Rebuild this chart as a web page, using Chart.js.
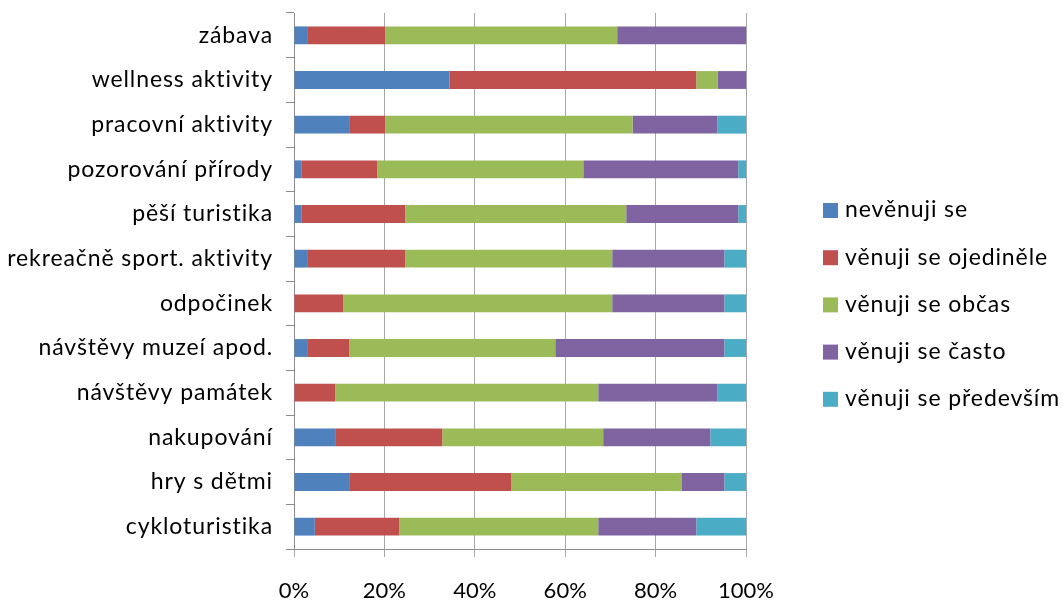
<!DOCTYPE html>
<html>
<head>
<meta charset="utf-8">
<script src="https://cdn.jsdelivr.net/npm/chart.js@4/dist/chart.umd.min.js"></script>
<style>
    html, body { margin: 0; padding: 0; background: #fff; }
    #wrap { width: 1063px; height: 601px; }
</style>
</head>
<body>
<div id="wrap"><canvas id="barChart" width="1063" height="601"></canvas></div>
<script>
// activities, top to bottom
const activities = [
    'zábava', 'wellness aktivity', 'pracovní aktivity', 'pozorování přírody',
    'pěší turistika', 'rekreačně sport. aktivity', 'odpočinek', 'návštěvy muzeí apod.',
    'návštěvy památek', 'nakupování', 'hry s dětmi', 'cykloturistika'
];

const seriesNames = ['nevěnuji se', 'věnuji se ojediněle', 'věnuji se občas', 'věnuji se často', 'věnuji se především'];

// shares in %
const nevenuji   = [2.9, 34.4, 12.2, 1.6, 1.6, 2.9, 0, 2.9, 0, 9.1, 12.2, 4.6];
const ojedinele  = [17.3, 54.6, 8.0, 16.8, 23.0, 21.7, 10.9, 9.3, 9.1, 23.7, 35.9, 18.7];
const obcas      = [51.3, 4.7, 54.7, 45.6, 48.9, 45.8, 59.5, 45.6, 58.2, 35.6, 37.6, 44.0];
const casto      = [28.5, 6.3, 18.8, 34.3, 24.8, 24.8, 24.8, 37.4, 26.4, 23.7, 9.5, 21.7];
const predevsim  = [0, 0, 6.3, 1.7, 1.7, 4.8, 4.8, 4.8, 6.3, 7.9, 4.8, 11.0];

const percentTicks = [0, 20, 40, 60, 80, 100];

const colors = ['#4F81BD', '#C0504D', '#9BBB59', '#8064A2', '#4BACC6'];
const FONT = 'Lato, "Open Sans", sans-serif';
const SPACING = '0.9px';

// slightly loose letter spacing for category labels + legend, normal for the % ticks
// (x tick labels have z:1 so they are drawn after the datasets)
const textSpacing = {
    id: 'textSpacing',
    beforeDraw(chart) { chart.ctx.letterSpacing = SPACING; },
    afterDatasetsDraw(chart) { chart.ctx.letterSpacing = '0px'; }
};

// legend drawn by hand so it can sit in its own column
const sideLegend = {
    id: 'sideLegend',
    afterDraw(chart) {
        const ctx = chart.ctx;
        ctx.save();
        ctx.letterSpacing = SPACING;
        ctx.font = '23px ' + FONT;
        ctx.textBaseline = 'middle';
        chart.data.datasets.forEach((ds, i) => {
            const y = 210 + i * 47.2;
            ctx.fillStyle = ds.backgroundColor;
            ctx.fillRect(823, y - 7, 15, 15);
            ctx.fillStyle = '#000';
            ctx.fillText(ds.label, 845, y);
        });
        ctx.restore();
    }
};

const seriesData = [nevenuji, ojedinele, obcas, casto, predevsim];

const ctx = document.getElementById('barChart').getContext('2d');
const barChart = new Chart(ctx, {
    type: 'bar',
    data: {
        labels: activities,
        datasets: seriesNames.map((name, i) => ({
            label: name,
            data: seriesData[i],
            backgroundColor: colors[i],
            borderWidth: 0,
            categoryPercentage: 1,
            barPercentage: 0.4
        }))
    },
    plugins: [textSpacing, sideLegend],
    options: {
        indexAxis: 'y',
        responsive: false,
        animation: false,
        layout: { padding: { top: 13, right: 317, bottom: 0, left: 0 } },
        plugins: {
            legend: { display: false },
            tooltip: { enabled: false }
        },
        scales: {
            x: {
                stacked: true,
                min: 0,
                max: 100,
                afterBuildTicks: (scale) => { scale.ticks = percentTicks.map(v => ({ value: v })); },
                afterFit: (scale) => { scale.height = 52; },
                ticks: {
                    callback: (v) => v + '%',
                    color: '#000',
                    font: { family: FONT, size: 22 },
                    padding: 21,
                    maxRotation: 0,
                    z: 1
                },
                grid: { color: '#a8a8a8', lineWidth: 1, tickLength: 8 },
                border: { color: '#8c8c8c', width: 1 }
            },
            y: {
                stacked: true,
                afterFit: (scale) => {
                    scale.width = 294;
                    scale.paddingTop = 0;
                    scale.paddingBottom = 0;
                },
                ticks: {
                    color: '#000',
                    font: { family: FONT, size: 23 },
                    padding: 13
                },
                grid: { drawOnChartArea: false, offset: true, color: '#8c8c8c', tickLength: 8 },
                border: { color: '#8c8c8c', width: 1 }
            }
        }
    }
});
</script>
</body>
</html>
